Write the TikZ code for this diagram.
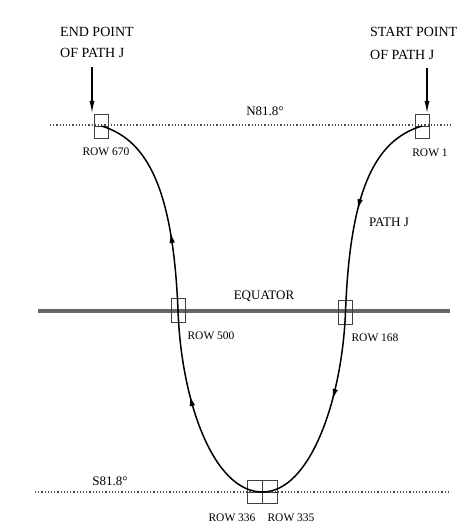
\documentclass[tikz,border=0pt]{standalone}
\usepackage{fontspec}
\setmainfont{Liberation Serif}
\usetikzlibrary{arrows.meta,decorations.markings}
\begin{document}
\begin{tikzpicture}[x=1pt,y=-1pt,
  lbl/.style={font=\fontsize{13}{14}\selectfont, inner sep=0pt},
  rowlbl/.style={font=\fontsize{11.5}{12}\selectfont, inner sep=0pt},
  hdr/.style={font=\fontsize{14}{15}\selectfont, inner sep=0pt, anchor=west},
  rowbox/.style={draw=black!75, line width=0.9pt, minimum width=14pt, minimum height=24pt, inner sep=0pt},
  botbox/.style={rowbox, minimum width=15pt, minimum height=23pt},
  lat/.style={dotted, line width=1.2pt, black!70},
  equ/.style={line width=4pt, black!60},
  midline/.style={black!75, line width=0.8pt},
  pathline/.style={line width=1.5pt},
  dirmark/.style={postaction={decorate}, decoration={markings, mark=at position #1 with {\arrow{Latex[length=11pt,width=5.5pt]}}}},
  pointer/.style={-{Latex[length=12pt,width=5pt]}, line width=1.1pt}
]
\useasboundingbox (0,0) rectangle (463,529);
% latitude lines
\coordinate (nW) at (50,125); \coordinate (nE) at (453,125);
\coordinate (eW) at (38,311); \coordinate (eE) at (450,311);
\coordinate (sW) at (35,492); \coordinate (sE) at (450,492);
\draw[lat] (nW) -- (nE);
\draw[equ] (eW) -- (eE);
\draw[lat] (sW) -- (sE);
% row boxes
\node[rowbox] (r1) at (422,126) {};
\node[rowbox] (r670) at (101.5,126) {};
\node[rowbox] (r168) at (345.5,312) {};
\node[rowbox] (r500) at (178,310) {};
\node[botbox] (r336) at (254.5,492) {};
\node[botbox] (r335) at (269.5,492) {};
\draw[midline] (r1.west) -- (r1.east);
\draw[midline] (r670.west) -- (r670.east);
\draw[midline] (r336.west) -- (r335.east);
% path J
\draw[pathline, dirmark=0.52] (r1.center) .. controls (375,140) and (350,190) .. (r168.center);
\draw[pathline, dirmark=0.42] (r168.center) .. controls (342,400) and (310,492) .. (r336.east);
\draw[pathline, dirmark=0.6] (r336.east) .. controls (213,492) and (181,400) .. (r500.center);
\draw[pathline, dirmark=0.37] (r500.center) .. controls (173,190) and (148,140) .. (r670.center);
% pointers
\coordinate (epS) at (92,67); \coordinate (epE) at (92,113);
\coordinate (spS) at (427,68); \coordinate (spE) at (427,113);
\draw[pointer] (epS) -- (epE);
\draw[pointer] (spS) -- (spE);
% labels
\node[hdr] (t1) at (60,32) {END POINT};
\node[hdr] (t2) at (60,53) {OF PATH J};
\node[hdr] (t3) at (370,32) {START POINT};
\node[hdr] (t4) at (370,55) {OF PATH J};
\node[lbl] (n81) at (265,111) {N81.8°};
\node[lbl] (s81) at (110,481) {S81.8°};
\node[lbl] (eq) at (264,296) {EQUATOR};
\node[lbl] (pj) at (389,222) {PATH J};
\node[rowlbl] (l670) at (106,152) {ROW 670};
\node[rowlbl] (l1) at (430,153) {ROW 1};
\node[rowlbl] (l500) at (211,336) {ROW 500};
\node[rowlbl] (l168) at (375,338) {ROW 168};
\node[rowlbl] (l336) at (232,518) {ROW 336};
\node[rowlbl] (l335) at (291,518) {ROW 335};
\end{tikzpicture}
\end{document}
